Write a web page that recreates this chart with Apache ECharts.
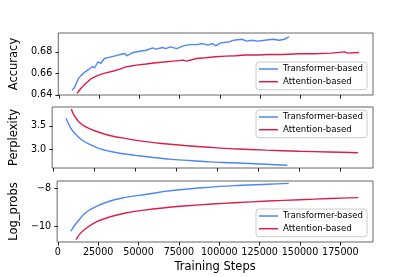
<!DOCTYPE html>
<html><head><meta charset="utf-8">
<script src="https://cdn.jsdelivr.net/npm/echarts@6/dist/echarts.min.js"></script>
<style>html,body{margin:0;padding:0;background:#fff}#c{width:415px;height:277px}</style>
</head><body><div id="c"></div>
<script>
var seriesNames = ['Transformer-based', 'Attention-based'];
var xTicks = [0, 25000, 50000, 75000, 100000, 125000, 150000, 175000];
var accTicks = [0.64, 0.66, 0.68];
var pplTicks = [3.0, 3.5];
var logTicks = [-10, -8];

var accBlueSteps = [8100, 9700, 12200, 13700, 15800, 18800, 20800, 22200, 24300, 25900, 28300, 31000, 35000, 38000, 41100, 42100, 46200, 50200, 54200, 58300, 60300, 64400, 66400, 69200, 73200, 77300, 81400, 85400, 89400, 92500, 95500, 97500, 100500, 105600, 108700, 113700, 116800, 119800, 123900, 127900, 133000, 137000, 140000, 143000];
var accBlue = [0.6443, 0.6468, 0.6554, 0.6579, 0.6609, 0.6640, 0.6662, 0.6652, 0.6708, 0.6692, 0.6738, 0.6748, 0.6763, 0.6775, 0.6784, 0.6763, 0.6794, 0.6806, 0.6815, 0.6837, 0.6825, 0.6840, 0.6830, 0.6846, 0.6830, 0.6855, 0.6867, 0.6867, 0.6877, 0.6862, 0.6877, 0.6855, 0.6883, 0.6892, 0.6908, 0.6917, 0.6899, 0.6908, 0.6899, 0.6908, 0.6917, 0.6908, 0.6917, 0.6938];
var accRedSteps = [11300, 13700, 16800, 19800, 23900, 27900, 34000, 38000, 42100, 48200, 54200, 60300, 65200, 71200, 77300, 79300, 85400, 91400, 97500, 103600, 109700, 115700, 123900, 130000, 139000, 149100, 159200, 169400, 177500, 179500, 186600];
var accRed = [0.6415, 0.6462, 0.6508, 0.6548, 0.6579, 0.6600, 0.6622, 0.6640, 0.6662, 0.6677, 0.6687, 0.6699, 0.6705, 0.6714, 0.6723, 0.6714, 0.6738, 0.6745, 0.6754, 0.6760, 0.6763, 0.6770, 0.6770, 0.6775, 0.6775, 0.6782, 0.6782, 0.6788, 0.6800, 0.6788, 0.6794];

var pplBlueSteps = [8100, 9700, 11700, 14800, 17800, 21900, 27900, 36000, 44100, 52200, 60300, 71200, 83400, 95500, 109500, 130000, 143000];
var pplBlue = [3.667, 3.537, 3.413, 3.289, 3.196, 3.109, 3.015, 2.941, 2.891, 2.854, 2.820, 2.780, 2.750, 2.720, 2.700, 2.667, 2.646];
var pplRedSteps = [11300, 12800, 15800, 19800, 25900, 34000, 44100, 54200, 66400, 80300, 95500, 109500, 130000, 150100, 168300, 186000];
var pplRed = [3.870, 3.740, 3.594, 3.485, 3.391, 3.300, 3.230, 3.170, 3.120, 3.075, 3.037, 3.005, 2.975, 2.952, 2.935, 2.920];

var logBlueSteps = [8100, 10700, 13700, 17800, 23900, 32000, 40100, 50200, 60300, 66400, 77300, 89400, 109500, 130000, 143000];
var logBlue = [-10.26, -9.92, -9.60, -9.25, -8.95, -8.68, -8.51, -8.37, -8.25, -8.16, -8.06, -7.97, -7.86, -7.79, -7.74];
var logRedSteps = [11300, 13700, 17800, 23900, 32000, 42100, 52200, 66400, 80300, 95500, 109500, 130000, 150100, 168300, 186000];
var logRed = [-10.70, -10.40, -10.09, -9.77, -9.51, -9.30, -9.16, -9.02, -8.92, -8.83, -8.76, -8.67, -8.60, -8.54, -8.49];

var BLUE = '#4f86f7', RED = '#dc1f48';
var FONT = 'DejaVu Sans';
function zip(a, b) { return a.map(function (v, i) { return [v, b[i]]; }); }

var grids = [
  {left: 52, width: 321, top: 33, height: 62},
  {left: 52, width: 321, top: 107, height: 61},
  {left: 52, width: 321, top: 181, height: 61}
].map(function (g) { return Object.assign({show: true, borderColor: '#666', borderWidth: 1, backgroundColor: 'transparent', containLabel: false}, g); });

function xAx(i) {
  return {
    type: 'value', gridIndex: i, min: -400, max: 195200,
    splitLine: {show: false},
    axisLine: {show: false},
    axisTick: {show: true, inside: false, length: 3.5, lineStyle: {color: '#222', width: 1}, customValues: xTicks},
    axisLabel: {show: i === 2, customValues: xTicks, formatter: function (v) { return String(Math.round(v)); }, color: '#000', fontFamily: FONT, fontSize: 9.6, margin: 5},
    name: i === 2 ? 'Training Steps' : '', nameLocation: 'middle', nameGap: 19,
    nameTextStyle: {color: '#000', fontFamily: FONT, fontSize: 11.5}
  };
}
function yAx(i, min, max, ticks, name, fmt) {
  return {
    type: 'value', gridIndex: i, min: min, max: max,
    splitLine: {show: false},
    axisLine: {show: false},
    axisTick: {show: true, inside: false, length: 3.5, lineStyle: {color: '#222', width: 1}, customValues: ticks},
    axisLabel: {customValues: ticks, formatter: fmt, color: '#000', fontFamily: FONT, fontSize: 9.6, margin: 6},
    name: name, nameLocation: 'middle', nameGap: 32, nameRotate: 90,
    nameTextStyle: {color: '#000', fontFamily: FONT, fontSize: 11.5}
  };
}
function fmtNeg(v) { var s = String(Math.round(v)); return s.replace('-', '\u2212'); }

function line(name, xi, steps, vals, color, smooth) {
  return {
    type: 'line', name: name, xAxisIndex: xi, yAxisIndex: xi,
    data: zip(steps, vals), symbol: 'none', showSymbol: false, smooth: smooth ? 0.3 : false,
    lineStyle: {color: color, width: 1.4}, itemStyle: {color: color},
    animation: false, clip: true
  };
}
function legend(top) {
  return {
    orient: 'vertical', left: 256, top: top, data: seriesNames,
    icon: 'rect', itemWidth: 19, itemHeight: 1.5, itemGap: 2.7,
    padding: [2, 4, 3, 3],
    backgroundColor: 'rgba(255,255,255,0.85)', borderColor: '#cccccc', borderWidth: 1, borderRadius: 3,
    textStyle: {color: '#000', fontFamily: FONT, fontSize: 8.6, lineHeight: 10},
    selectedMode: false
  };
}

var chart = echarts.init(document.getElementById('c'), null, {renderer: 'canvas'});
chart.setOption({
  animation: false,
  grid: grids,
  xAxis: [xAx(0), xAx(1), xAx(2)],
  yAxis: [
    yAx(0, 0.6399, 0.6975, accTicks, 'Accuracy', function (v) { return v.toFixed(2); }),
    yAx(1, 2.587, 3.913, pplTicks, 'Perplexity', function (v) { return v.toFixed(1); }),
    yAx(2, -10.826, -7.616, logTicks, 'Log_probs', fmtNeg)
  ],
  legend: [legend(62), legend(110), legend(209)],
  series: [
    line(seriesNames[0], 0, accBlueSteps, accBlue, BLUE, false),
    line(seriesNames[1], 0, accRedSteps, accRed, RED, false),
    line(seriesNames[0], 1, pplBlueSteps, pplBlue, BLUE, true),
    line(seriesNames[1], 1, pplRedSteps, pplRed, RED, true),
    line(seriesNames[0], 2, logBlueSteps, logBlue, BLUE, true),
    line(seriesNames[1], 2, logRedSteps, logRed, RED, true)
  ]
});
</script>
</body></html>
